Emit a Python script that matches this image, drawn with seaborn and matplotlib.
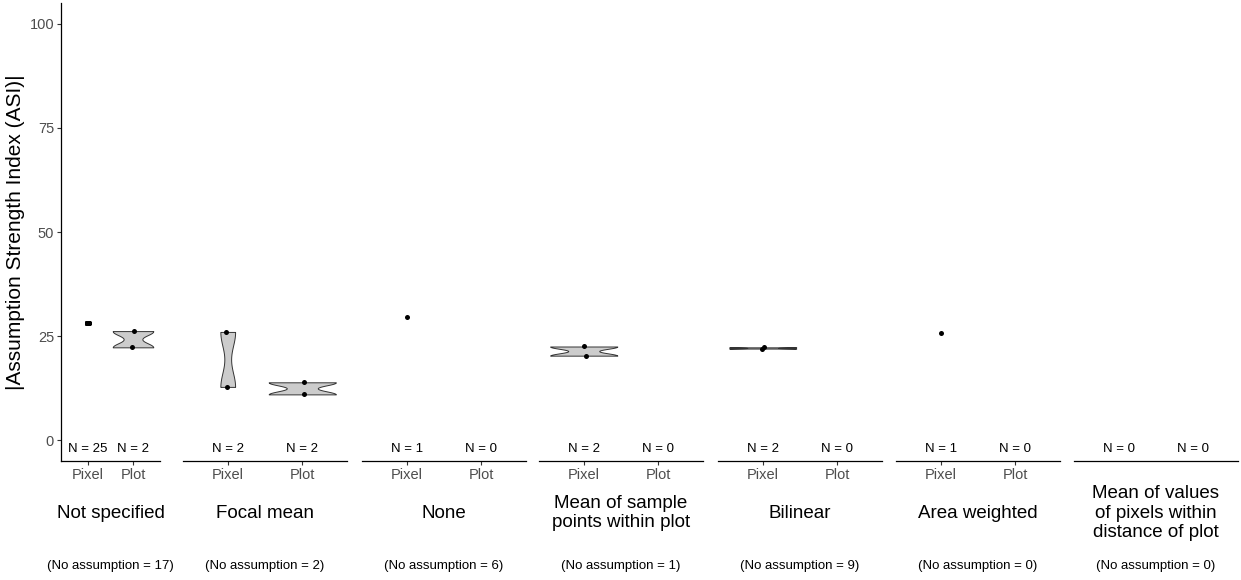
import numpy as np
import pandas as pd
import matplotlib
matplotlib.use("Agg")
import matplotlib.pyplot as plt
import seaborn as sns

# ---- data -------------------------------------------------------------
methods = [
    "Not specified",
    "Focal mean",
    "None",
    "Mean of sample\npoints within plot",
    "Bilinear",
    "Area weighted",
    "Mean of values\nof pixels within\ndistance of plot",
]
resolutions = ["Pixel", "Plot"]

asi_pixel = [
    [28.2, 28.2, 28.2, 28.2, 28.2, 28.2, 28.2, 28.2, 28.2, 28.2,
     28.2, 28.2, 28.2, 28.2, 28.2, 28.2, 28.2, 28.2, 28.2, 28.2,
     28.2, 28.2, 28.2, 28.2, 28.2],
    [26.0, 12.8],
    [29.7],
    [22.5, 20.3],
    [22.3, 22.0],
    [25.8],
    [],
]
asi_plot = [
    [26.2, 22.3],
    [13.9, 11.0],
    [],
    [],
    [],
    [],
    [],
]
no_assumption = [17, 2, 6, 1, 9, 0, 0]

rows = []
for m, px, pl in zip(methods, asi_pixel, asi_plot):
    rows += [(m, "Pixel", v) for v in px]
    rows += [(m, "Plot", v) for v in pl]
df = pd.DataFrame(rows, columns=["method", "resolution", "asi"])

# ---- style ------------------------------------------------------------
sns.set_style("ticks")
plt.rcParams["font.family"] = ["Liberation Sans", "DejaVu Sans"]
np.random.seed(3)

W, H = 1241, 580
fig = plt.figure(figsize=(W / 100, H / 100), dpi=100)

panel_left = [61, 183, 362, 539, 718, 896, 1074]
panel_width = [99, 164, 164, 164, 164, 164, 164]
top_px, bottom_px = 3, 461
grey_txt = "#4D4D4D"

for i, m in enumerate(methods):
    l, w = panel_left[i], panel_width[i]
    ax = fig.add_axes([l / W, 1 - bottom_px / H, w / W, (bottom_px - top_px) / H])
    sub = df[df["method"] == m]

    # violins only where a group has some spread
    spread = sub.groupby("resolution")["asi"].transform("nunique") > 1
    if spread.any():
        sns.violinplot(
            data=sub[spread], x="resolution", y="asi", order=resolutions,
            cut=0, density_norm="area", bw_adjust=0.475, inner=None,
            width=0.9, color="#CCCCCC", linecolor="#333333", linewidth=0.7,
            saturation=1, ax=ax,
        )
    if len(sub):
        sns.stripplot(
            data=sub, x="resolution", y="asi", order=resolutions,
            color="black", size=3.6, jitter=0.03, ax=ax, zorder=5,
        )

    # sample size per resolution
    for j, res in enumerate(resolutions):
        n = int((sub["resolution"] == res).sum())
        ax.text(j, -2.2, f"N = {n}", ha="center", va="center",
                fontsize=9.5, color="black")

    ax.set_xlim(-0.6, 1.6)
    ax.set_ylim(-5, 105)
    ax.set_xlabel("")
    ax.set_ylabel("")
    for s in ["top", "right"]:
        ax.spines[s].set_visible(False)
    ax.spines["bottom"].set_color("black")
    ax.spines["bottom"].set_linewidth(0.9)

    if len(sub):
        ax.set_xticks([0, 1])
        ax.set_xticklabels(resolutions)
        ax.tick_params(axis="x", length=3, width=0.8, color="#333333",
                       labelsize=10.5, labelcolor=grey_txt, pad=2)
    else:
        ax.set_xticks([])

    if i == 0:
        ax.set_yticks([0, 25, 50, 75, 100])
        ax.tick_params(axis="y", length=3, width=0.8, color="#333333",
                       labelsize=10.5, labelcolor=grey_txt, pad=2)
        ax.spines["left"].set_color("black")
        ax.spines["left"].set_linewidth(0.9)
    else:
        ax.spines["left"].set_visible(False)
        ax.set_yticks([])

    cx = (l + w / 2) / W
    fig.text(cx, 1 - 513 / H, m, ha="center", va="center",
             fontsize=13.5, linespacing=1.2, color="black")
    fig.text(cx, 1 - 566 / H, f"(No assumption = {no_assumption[i]})",
             ha="center", va="center", fontsize=9.5, color="black")

fig.text(16 / W, 1 - 232 / H, "|Assumption Strength Index (ASI)|",
         rotation=90, ha="center", va="center", fontsize=15, color="black")

fig.savefig("out.png", dpi=100)
